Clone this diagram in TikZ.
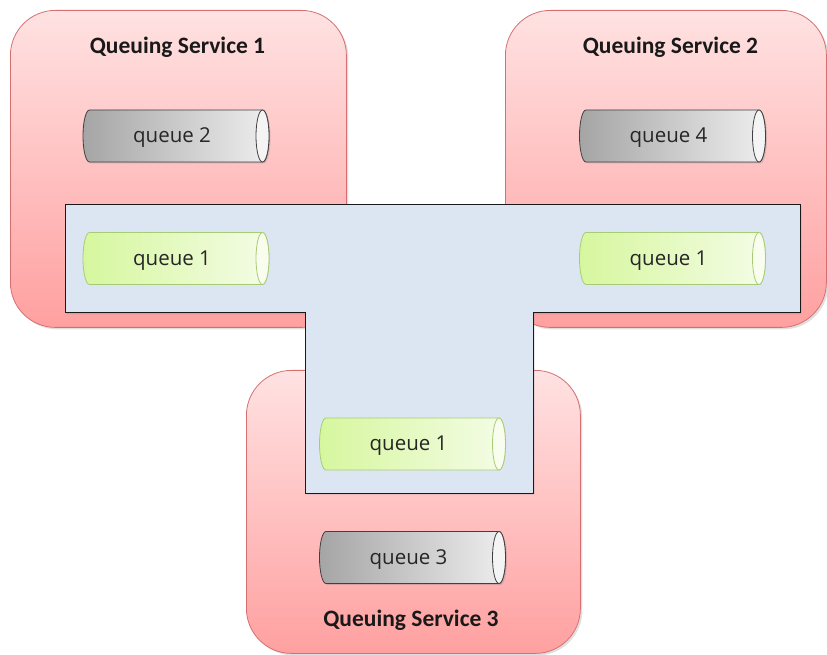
\documentclass[tikz,border=0pt]{standalone}
\usepackage{fontspec}
\setmainfont{Carlito}
\newfontfamily\qfont{Open Sans}
\usetikzlibrary{shadows}
\definecolor{redtop}{RGB}{255,226,226}
\definecolor{redbot}{RGB}{255,160,160}
\definecolor{redline}{RGB}{214,112,112}
\definecolor{tblue}{RGB}{220,230,242}
\definecolor{grayL}{RGB}{165,165,165}
\definecolor{grayR}{RGB}{238,238,238}
\definecolor{grayC}{RGB}{244,244,244}
\definecolor{greenL}{RGB}{214,247,158}
\definecolor{greenR}{RGB}{244,252,230}
\definecolor{greenC}{RGB}{248,253,238}
\definecolor{greenline}{RGB}{168,204,118}
\tikzset{
  service/.style={draw=redline, line width=0.8pt, rounded corners=45pt,
    top color=redtop, bottom color=redbot,
    drop shadow={opacity=0.25, shadow xshift=2pt, shadow yshift=-2pt}},
  svctitle/.style={font=\fontsize{23.5}{28}\selectfont\bfseries, text=black!90, inner sep=0pt, anchor=base},
  graybody/.style={draw=black!75, line width=0.8pt, left color=grayL, right color=grayR,
    drop shadow={opacity=0.3, shadow xshift=1.5pt, shadow yshift=-1.5pt}},
  graycap/.style={draw=black!75, line width=0.8pt, fill=grayC},
  greenbody/.style={draw=greenline, line width=0.8pt, left color=greenL, right color=greenR},
  greencap/.style={draw=greenline, line width=0.8pt, fill=greenC},
  qlabel/.style={font=\qfont\fontsize{20.5}{24}\selectfont, text=black!85, inner sep=0pt, anchor=base},
  tshape/.style={draw=black!90, line width=1pt, fill=tblue,
    drop shadow={opacity=0.25, shadow xshift=1.5pt, shadow yshift=-1.5pt}}
}
\newcommand\qcyl[6]{%
  \begin{scope}[shift={(#2,{654-#3})}]
    \path[#5] (-86.5,26) arc[start angle=90,end angle=270,x radius=6.5,y radius=26]
      -- (86.5,-26) arc[start angle=-90,end angle=90,x radius=6.5,y radius=26] -- cycle;
    \path[#6] (86.5,0) ellipse[x radius=6.5,y radius=26];
    \node[qlabel] (#1) at (-4,-6.8) {#4};
  \end{scope}}
\begin{document}
\begin{tikzpicture}[x=1pt,y=1pt]
\useasboundingbox (0,0) rectangle (827,654);
% services
\node[service, minimum width=336pt, minimum height=317pt, anchor=north west] (s1) at (10,644) {};
\node[service, minimum width=321pt, minimum height=317pt, anchor=north west] (s2) at (505,644) {};
\node[service, minimum width=334pt, minimum height=283pt, anchor=north west] (s3) at (246,284) {};
\node[svctitle] (t1) at (177.5,{654-53.5}) {Queuing Service 1};
\node[svctitle] (t2) at (670.5,{654-53.5}) {Queuing Service 2};
\node[svctitle] (t3) at (411,{654-626}) {Queuing Service 3};
% shared T region
\path[tshape] (65,{654-205}) -- (800,{654-205}) -- (800,{654-313}) -- (533,{654-313})
  -- (533,{654-493}) -- (305,{654-493}) -- (305,{654-313}) -- (65,{654-313}) -- cycle;
% queues
\qcyl{q2}{176}{136}{queue 2}{graybody}{graycap}
\qcyl{q4}{672.5}{136}{queue 4}{graybody}{graycap}
\qcyl{q3}{412.5}{557.5}{queue 3}{graybody}{graycap}
\qcyl{q1a}{176}{258.5}{queue 1}{greenbody}{greencap}
\qcyl{q1b}{672.5}{258.5}{queue 1}{greenbody}{greencap}
\qcyl{q1c}{412.5}{444}{queue 1}{greenbody}{greencap}
\end{tikzpicture}
\end{document}
